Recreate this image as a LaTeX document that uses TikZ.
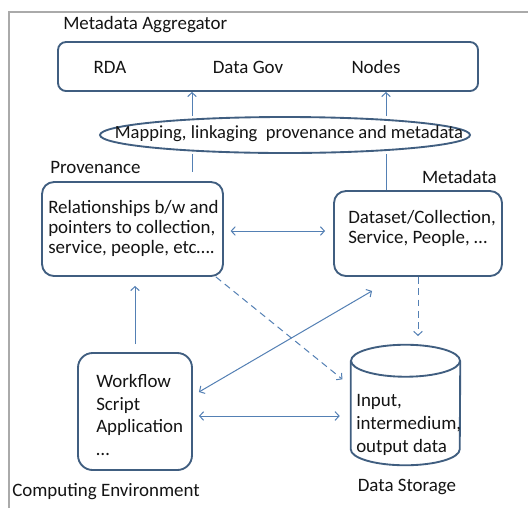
\documentclass[tikz,border=0pt]{standalone}
\usepackage{fontspec}
\setmainfont{Carlito}
\usetikzlibrary{arrows.meta,shapes.geometric,fit,calc}
\definecolor{boxc}{RGB}{64,94,128}
\definecolor{arrc}{RGB}{84,128,180}
\definecolor{framec}{RGB}{170,170,170}
\definecolor{txtc}{RGB}{20,20,20}
\newcommand\dfont{\fontsize{14.2}{15}\selectfont}
\newcommand\wfont{\fontsize{14.2}{17}\selectfont}
\newcommand\efont{\fontsize{13.9}{15}\selectfont}
\begin{document}
\begin{tikzpicture}[x=0.75pt,y=-0.75pt,
  box/.style={draw=boxc, line width=1.4pt, rounded corners=#1, inner sep=0pt},
  cyl/.style={draw=boxc, line width=1.4pt},
  lbl/.style={inner sep=0pt, font=\dfont, text=txtc},
  arr/.style={draw=arrc, line width=0.75pt, -{Straight Barb[length=3pt,width=6.5pt]}},
  darr/.style={draw=arrc, line width=0.75pt, {Straight Barb[length=3pt,width=6.5pt]}-{Straight Barb[length=3pt,width=6.5pt]}},
  plain/.style={draw=arrc, line width=0.75pt},
  dsh/.style={dash pattern=on 5pt off 3.5pt}]
\useasboundingbox (0,0) rectangle (528,508);
\fill[white] (0,0) rectangle (528,508);
% frame
\draw[framec, line width=2.2pt] (9,508) -- (9,12) -- (528,12);

% aggregator
\node[lbl, anchor=west] (aggl) at (63,25) {Metadata Aggregator};
\node[box=6pt, fit={(58,42) (478,91)}] (agg) {};
\node[lbl] (rda) at (110,67) {RDA};
\node[lbl] (dgov) at (248,67) {Data Gov};
\node[lbl] (nodes) at (376,67) {Nodes};

% mapping ellipse
\node[draw=boxc, line width=1.4pt, ellipse, minimum width=277.5pt, minimum height=27pt, inner sep=0pt] (ell) at (285,135) {};
\node[lbl, font=\efont] (ellt) at (289,134) {Mapping, linkaging\ \ provenance and metadata};

% provenance
\node[lbl, anchor=west] (provl) at (50,167) {Provenance};
\node[box=9pt, fit={(42,182) (223,276)}] (prov) {};
\node[lbl, anchor=west, align=left] (provt) at (48,228)
  {Relationships b/w and\\pointers to collection,\\service, people, etc….};

% metadata
\node[lbl, anchor=east] (metal) at (497,177) {Metadata};
\node[box=9pt, fit={(334,191) (502,276)}] (meta) {};
\node[lbl, anchor=west, align=left] (metat) at (348,228)
  {Dataset/Collection,\\Service, People, …};

% computing environment
\node[box=11pt, fit={(78,353) (192,470)}] (wf) {};
\node[lbl, anchor=west, align=left, font=\wfont] (wft) at (96,415)
  {Workflow\\Script\\Application\\…};
\node[lbl, anchor=west] (wfl) at (12,492) {Computing Environment};

% data storage cylinder
\node[inner sep=0pt, fit={(351,361) (460,449)}] (ds) {};
\draw[cyl, fill=white] (ds.north west) -- (ds.south west)
  arc[start angle=180, end angle=360, x radius=40.875pt, y radius=12pt] -- (ds.north east);
\draw[cyl] (ds.north) ellipse [x radius=40.875pt, y radius=12pt];
\node[lbl, anchor=west, align=left, font=\wfont] (dst) at (356,425) {Input,\\intermedium,\\output data};
\node[lbl] (dsl) at (407,487) {Data Storage};

% connectors
\draw[arr] (192,0 |- ell.north) -- (192,0 |- agg.south);
\draw[arr] (386,0 |- ell.north) -- (386,0 |- agg.south);
\draw[plain, shorten >=6.75pt] (192,0 |- ell.south) -- (192,0 |- prov.north);
\draw[plain] (386,0 |- ell.south) -- (386,0 |- meta.north);
\draw[darr, shorten <=5pt, shorten >=6pt] (prov.east |- 0,231) -- (meta.west |- 0,231);
\draw[arr, dsh, shorten >=6.75pt] (418,0 |- meta.south) -- (418,345);
\draw[arr, dsh, shorten >=8pt] ([xshift=-6pt]prov.south east) -- (ds.west |- 0,386);
\draw[darr, shorten <=5.2pt, shorten >=20.8pt] (wf.east |- 0,395.5) -- (396,0 |- meta.south);
\draw[arr, shorten <=6pt, shorten >=6.75pt] (wf.north) -- (wf.north |- prov.south);
\draw[darr, shorten <=4.5pt, shorten >=8.25pt] (wf.east |- 0,416) -- (ds.west |- 0,416);
\end{tikzpicture}
\end{document}
